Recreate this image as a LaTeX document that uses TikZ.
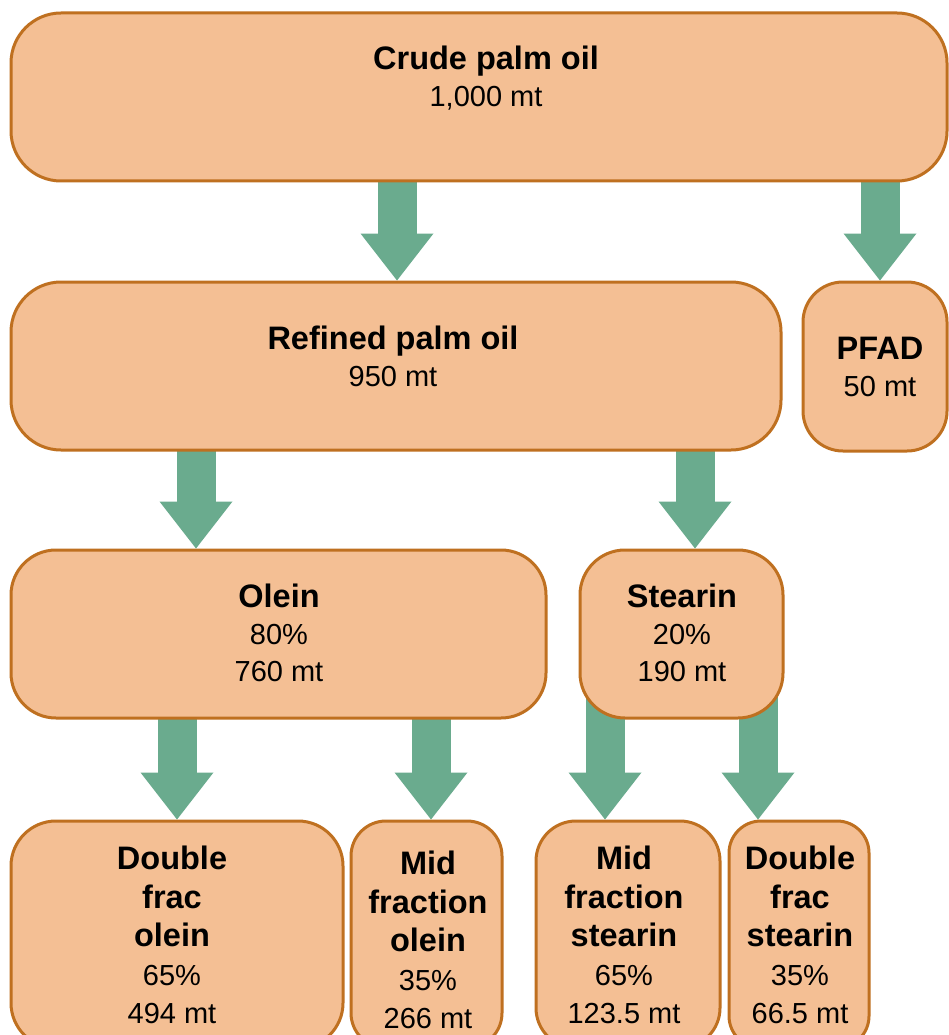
\documentclass[tikz,border=0pt]{standalone}
\usepackage{fontspec}
\setmainfont{Liberation Sans}
\usetikzlibrary{arrows.meta,backgrounds}
\definecolor{boxfill}{RGB}{244,191,148}
\definecolor{boxline}{RGB}{191,112,32}
\definecolor{arrowgreen}{RGB}{106,171,142}
\tikzset{
  box/.style={draw=boxline, fill=boxfill, line width=3pt, rounded corners=#1, inner sep=0pt},
  box/.default=45pt,
  txt/.style={align=center, inner sep=0pt, font=\fontsize{29}{37}\selectfont},
  txtb/.style={align=center, inner sep=0pt, font=\fontsize{29}{38.5}\selectfont},
  fat/.style={arrowgreen, line width=39pt, -{Triangle[length=47pt,width=73pt,line width=0pt]}},
}
\newcommand{\ttl}[1]{{\fontsize{32.5}{37}\selectfont\bfseries #1}}
\newcommand{\boxat}[6]{\node[box=#6, minimum width=#4pt-#2pt, minimum height=#5pt-#3pt] (#1) at ({(#2+#4)/2},{(#3+#5)/2}) {};}
\begin{document}
\begin{tikzpicture}[x=1pt,y=-1pt]
\useasboundingbox (0,0) rectangle (949,1035);
% boxes
\boxat{crude}{11}{13}{947}{181}{50pt}
\boxat{refined}{11}{282}{781}{450}{50pt}
\boxat{pfad}{803}{282}{947}{451}{40pt}
\boxat{olein}{11}{550}{546}{718}{45pt}
\boxat{stearin}{580}{550}{783}{718}{45pt}
\boxat{dfo}{11}{821}{343}{1048}{45pt}
\boxat{mfo}{351}{821}{502}{1048}{35pt}
\boxat{mfs}{536}{821}{720}{1048}{40pt}
\boxat{dfs}{729}{821}{869}{1048}{32pt}
% x positions of the arrows
\coordinate (ax1) at (397,0);
\coordinate (ax2) at (880,0);
\coordinate (ax3) at (196,0);
\coordinate (ax4) at (695,0);
\coordinate (ax5) at (177,0);
\coordinate (ax6) at (431,0);
\coordinate (ax7) at (605,0);
\coordinate (ax8) at (758,0);
\begin{pgfonlayer}{background}
  \fill[white] (0,0) rectangle (949,1035);
  \draw[fat] (crude.center -| ax1) -- (refined.north -| ax1);
  \draw[fat] (crude.center -| ax2) -- (pfad.north -| ax2);
  \draw[fat] (refined.center -| ax3) -- (olein.north -| ax3);
  \draw[fat] (refined.center -| ax4) -- (stearin.north -| ax4);
  \draw[fat] (olein.center -| ax5) -- (dfo.north -| ax5);
  \draw[fat] (olein.center -| ax6) -- (mfo.north -| ax6);
  \draw[fat] (stearin.center -| ax7) -- (mfs.north -| ax7);
  \draw[fat] (stearin.center -| ax8) -- (dfs.north -| ax8);
\end{pgfonlayer}
% texts
\node[txt] (tcrude) at (486,78) {\ttl{Crude palm oil}\\1,000 mt};
\node[txt] (trefined) at (393,356) {\ttl{Refined palm oil}\\950 mt};
\node[txt] (tpfad) at (880,367) {\ttl{PFAD}\\50 mt};
\node[txt] (tolein) at (279,633) {\ttl{Olein}\\80\%\\760 mt};
\node[txt] (tstearin) at (682,633) {\ttl{Stearin}\\20\%\\190 mt};
\node[txtb] (tdfo) at (172,935) {\ttl{Double}\\\ttl{frac}\\\ttl{olein}\\65\%\\494 mt};
\node[txtb] (tmfo) at (428,940) {\ttl{Mid}\\\ttl{fraction}\\\ttl{olein}\\35\%\\266 mt};
\node[txtb] (tmfs) at (624,935) {\ttl{Mid}\\\ttl{fraction}\\\ttl{stearin}\\65\%\\123.5 mt};
\node[txtb] (tdfs) at (800,935) {\ttl{Double}\\\ttl{frac}\\\ttl{stearin}\\35\%\\66.5 mt};
\end{tikzpicture}
\end{document}
